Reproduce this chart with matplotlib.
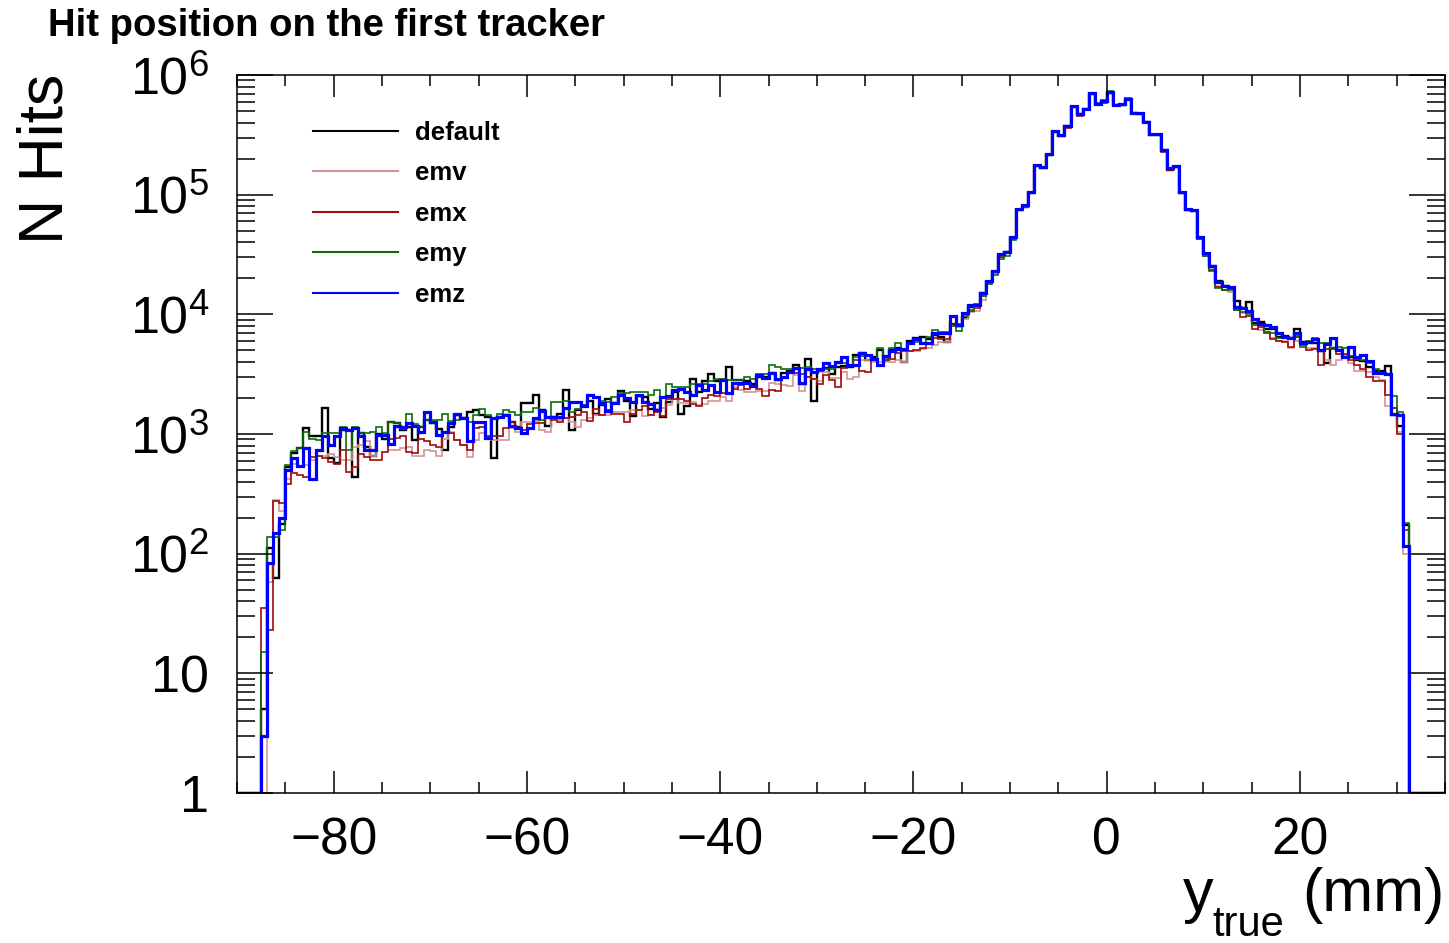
import numpy as np
import matplotlib
matplotlib.use('Agg')
import matplotlib.pyplot as plt
from matplotlib.ticker import FixedLocator, FixedFormatter, MultipleLocator, LogLocator, NullFormatter

plt.rcParams.update({
    'font.family': ['Liberation Sans', 'DejaVu Sans'],
    'mathtext.fontset': 'custom',
    'mathtext.rm': 'Liberation Sans',
    'mathtext.it': 'Liberation Sans:italic',
    'mathtext.bf': 'Liberation Sans:bold',
})

# Binning: 200 bins of 0.625 mm between -90 and 35 mm
x_lo, x_hi, n_bins = -90.0, 35.0, 200
first_bin = 4  # first filled bin (-87.5 mm); bins 4..193 are filled

# log10(N hits) per bin (None = empty bin)
default_log10 = [
    0.70, 2.05, 1.80, 2.25, 2.72, 2.84, 2.88, 3.05, 2.98, 2.98,
    3.22, 2.80, 2.76, 3.03, 3.03, 2.64, 3.01, 2.89, 2.82, 3.00,
    2.96, 3.10, 3.09, 3.03, 3.06, 2.95, 3.06, 3.12, 3.09, 3.04,
    2.87, 3.06, 3.16, 3.13, 3.18, 3.20, 3.16, 3.14, 2.80, 3.14,
    3.16, 3.10, 3.06, 3.26, 3.26, 3.33, 3.20, 3.07, 3.14, 3.17,
    3.37, 3.03, 3.20, 3.23, 3.28, 3.17, 3.24, 3.29, 3.26, 3.36,
    3.28, 3.15, 3.32, 3.31, 3.21, 3.26, 3.14, 3.27, 3.35, 3.17,
    3.23, 3.46, 3.35, 3.44, 3.50, 3.44, 3.45, 3.56, 3.45, 3.45,
    3.44, 3.42, 3.48, 3.48, 3.51, 3.45, 3.51, 3.53, 3.58, 3.42,
    3.63, 3.28, 3.53, 3.55, 3.50, 3.56, 3.57, 3.56, 3.66, 3.68,
    3.62, 3.64, 3.70, 3.61, 3.70, 3.72, 3.60, 3.78, 3.80, 3.81,
    3.79, 3.83, 3.81, 3.77, 3.92, 3.90, 3.97, 4.06, 4.08, 4.18,
    4.27, 4.35, 4.49, 4.52, 4.64, 4.87, 4.90, 5.01, 5.24, 5.22,
    5.33, 5.52, 5.49, 5.57, 5.73, 5.67, 5.72, 5.84, 5.76, 5.78,
    5.85, 5.75, 5.75, 5.80, 5.68, 5.67, 5.61, 5.50, 5.50, 5.37,
    5.21, 5.23, 5.01, 4.87, 4.86, 4.64, 4.50, 4.40, 4.28, 4.24,
    4.22, 4.11, 4.05, 4.10, 3.93, 3.94, 3.88, 3.88, 3.81, 3.82,
    3.80, 3.88, 3.77, 3.77, 3.76, 3.69, 3.59, 3.72, 3.70, 3.64,
    3.64, 3.62, 3.61, 3.56, 3.53, 3.53, 3.57, 3.16, 3.07, 2.24,
]
emv_log10 = [
    None, 1.76, 2.45, 2.36, 2.62, 2.75, 2.73, 2.74, 2.78, 2.82,
    2.82, 2.83, 2.81, 2.78, 2.78, 2.89, 2.91, 2.94, 2.82, 2.99,
    2.99, 2.87, 2.87, 2.88, 2.89, 2.82, 2.82, 2.87, 2.86, 2.82,
    2.96, 3.02, 2.95, 2.91, 2.81, 2.95, 3.01, 2.98, 2.95, 2.95,
    2.95, 3.05, 3.02, 3.10, 3.10, 3.11, 3.03, 3.02, 3.14, 3.12,
    3.13, 3.10, 3.06, 3.12, 3.13, 3.16, 3.16, 3.16, 3.18, 3.18,
    3.18, 3.20, 3.20, 3.15, 3.16, 3.21, 3.22, 3.24, 3.29, 3.26,
    3.26, 3.27, 3.24, 3.25, 3.28, 3.28, 3.31, 3.28, 3.39, 3.37,
    3.35, 3.35, 3.36, 3.36, 3.43, 3.42, 3.41, 3.40, 3.49, 3.36,
    3.48, 3.46, 3.44, 3.52, 3.47, 3.47, 3.52, 3.46, 3.48, 3.62,
    3.62, 3.60, 3.60, 3.61, 3.60, 3.62, 3.60, 3.69, 3.69, 3.71,
    3.72, 3.74, 3.77, 3.77, 3.90, 3.89, 3.96, 4.02, 4.03, 4.12,
    4.25, 4.34, 4.48, 4.51, 4.64, 4.87, 4.90, 5.02, 5.24, 5.23,
    5.33, 5.53, 5.50, 5.57, 5.74, 5.67, 5.72, 5.85, 5.76, 5.78,
    5.86, 5.75, 5.76, 5.80, 5.68, 5.68, 5.61, 5.51, 5.51, 5.37,
    5.22, 5.23, 5.02, 4.88, 4.86, 4.64, 4.50, 4.38, 4.24, 4.20,
    4.19, 4.04, 4.01, 4.01, 3.91, 3.87, 3.85, 3.80, 3.78, 3.78,
    3.72, 3.78, 3.75, 3.72, 3.72, 3.69, 3.62, 3.58, 3.62, 3.66,
    3.59, 3.53, 3.53, 3.52, 3.48, 3.45, 3.23, 3.22, 3.02, 2.00,
]
emx_log10 = [
    1.55, 1.36, 2.44, 2.42, 2.58, 2.67, 2.66, 2.64, 2.81, 2.82,
    2.80, 2.77, 2.75, 2.87, 2.68, 2.72, 2.83, 2.81, 2.78, 2.78,
    2.85, 2.96, 2.97, 2.98, 2.85, 2.84, 2.96, 2.94, 2.91, 2.89,
    3.02, 3.01, 2.95, 2.91, 2.87, 3.05, 3.06, 2.98, 2.98, 2.98,
    3.05, 3.10, 3.06, 3.03, 3.08, 3.09, 3.09, 3.13, 3.12, 3.10,
    3.13, 3.14, 3.16, 3.18, 3.11, 3.21, 3.16, 3.20, 3.17, 3.17,
    3.10, 3.17, 3.20, 3.23, 3.16, 3.18, 3.15, 3.29, 3.29, 3.29,
    3.28, 3.25, 3.23, 3.30, 3.33, 3.32, 3.34, 3.34, 3.38, 3.41,
    3.38, 3.39, 3.38, 3.32, 3.37, 3.36, 3.48, 3.51, 3.51, 3.50,
    3.48, 3.46, 3.42, 3.49, 3.45, 3.39, 3.55, 3.58, 3.62, 3.53,
    3.52, 3.62, 3.58, 3.62, 3.63, 3.68, 3.69, 3.69, 3.70, 3.72,
    3.76, 3.80, 3.79, 3.79, 3.92, 3.92, 4.00, 4.03, 4.05, 4.15,
    4.26, 4.35, 4.48, 4.51, 4.63, 4.87, 4.90, 5.01, 5.24, 5.22,
    5.33, 5.52, 5.49, 5.56, 5.73, 5.66, 5.71, 5.84, 5.75, 5.77,
    5.85, 5.74, 5.75, 5.79, 5.67, 5.67, 5.60, 5.50, 5.50, 5.36,
    5.21, 5.23, 5.01, 4.87, 4.86, 4.63, 4.49, 4.37, 4.23, 4.20,
    4.21, 4.04, 3.98, 3.99, 3.88, 3.89, 3.84, 3.79, 3.78, 3.77,
    3.73, 3.81, 3.74, 3.70, 3.71, 3.58, 3.71, 3.71, 3.67, 3.67,
    3.62, 3.58, 3.54, 3.48, 3.44, 3.44, 3.33, 3.22, 3.00, 2.20,
]
emy_log10 = [
    1.18, 2.14, 2.14, 2.20, 2.74, 2.86, 2.88, 3.02, 2.96, 2.95,
    3.01, 3.01, 3.01, 3.06, 2.87, 3.06, 3.01, 3.01, 3.02, 3.06,
    3.01, 3.10, 3.09, 3.04, 3.17, 3.08, 3.06, 3.12, 3.12, 3.12,
    3.17, 3.11, 3.12, 3.13, 3.10, 3.16, 3.21, 3.16, 3.13, 3.17,
    3.20, 3.18, 3.16, 3.18, 3.18, 3.22, 3.12, 3.14, 3.27, 3.27,
    3.28, 3.18, 3.21, 3.24, 3.32, 3.30, 3.28, 3.27, 3.31, 3.34,
    3.34, 3.35, 3.35, 3.35, 3.33, 3.37, 3.30, 3.42, 3.39, 3.39,
    3.39, 3.42, 3.42, 3.42, 3.44, 3.46, 3.46, 3.45, 3.45, 3.45,
    3.48, 3.46, 3.50, 3.50, 3.58, 3.56, 3.54, 3.54, 3.55, 3.55,
    3.56, 3.54, 3.53, 3.54, 3.54, 3.59, 3.59, 3.58, 3.64, 3.65,
    3.66, 3.63, 3.72, 3.63, 3.72, 3.76, 3.71, 3.76, 3.77, 3.76,
    3.81, 3.87, 3.85, 3.85, 3.90, 3.86, 3.99, 4.04, 4.09, 4.15,
    4.25, 4.33, 4.46, 4.49, 4.62, 4.87, 4.90, 5.02, 5.24, 5.23,
    5.34, 5.53, 5.50, 5.57, 5.74, 5.67, 5.72, 5.85, 5.77, 5.79,
    5.87, 5.75, 5.76, 5.81, 5.68, 5.68, 5.61, 5.51, 5.51, 5.37,
    5.22, 5.24, 5.01, 4.87, 4.86, 4.63, 4.49, 4.36, 4.22, 4.20,
    4.20, 4.04, 4.02, 4.00, 3.91, 3.91, 3.85, 3.84, 3.80, 3.80,
    3.80, 3.82, 3.73, 3.78, 3.80, 3.76, 3.76, 3.72, 3.73, 3.72,
    3.65, 3.63, 3.62, 3.59, 3.54, 3.51, 3.50, 3.32, 3.18, 2.26,
]
emz_log10 = [
    0.48, 1.92, 2.17, 2.30, 2.70, 2.80, 2.73, 2.88, 2.62, 2.87,
    2.98, 2.91, 2.98, 3.05, 3.03, 3.05, 2.98, 2.87, 2.87, 2.99,
    2.99, 2.92, 3.07, 3.06, 3.09, 3.07, 3.02, 3.18, 3.10, 2.99,
    3.02, 3.09, 3.17, 3.13, 2.94, 3.10, 3.10, 2.97, 3.13, 3.14,
    3.16, 3.07, 3.05, 3.01, 3.05, 3.13, 3.19, 3.14, 3.14, 3.14,
    3.22, 3.27, 3.27, 3.23, 3.33, 3.31, 3.26, 3.19, 3.26, 3.33,
    3.30, 3.27, 3.33, 3.27, 3.25, 3.20, 3.31, 3.32, 3.37, 3.38,
    3.35, 3.33, 3.41, 3.37, 3.41, 3.35, 3.45, 3.34, 3.43, 3.43,
    3.43, 3.40, 3.49, 3.47, 3.51, 3.46, 3.48, 3.52, 3.55, 3.43,
    3.54, 3.52, 3.54, 3.59, 3.57, 3.60, 3.64, 3.58, 3.58, 3.68,
    3.66, 3.63, 3.58, 3.65, 3.69, 3.71, 3.71, 3.76, 3.79, 3.76,
    3.76, 3.84, 3.84, 3.84, 3.99, 3.91, 4.01, 4.08, 4.08, 4.18,
    4.28, 4.36, 4.50, 4.52, 4.65, 4.88, 4.91, 5.02, 5.25, 5.23,
    5.34, 5.53, 5.50, 5.57, 5.74, 5.67, 5.72, 5.85, 5.76, 5.78,
    5.86, 5.75, 5.76, 5.80, 5.68, 5.68, 5.61, 5.51, 5.51, 5.37,
    5.22, 5.24, 5.02, 4.88, 4.87, 4.65, 4.51, 4.40, 4.27, 4.24,
    4.23, 4.06, 4.05, 4.03, 3.96, 3.92, 3.91, 3.89, 3.84, 3.81,
    3.80, 3.84, 3.76, 3.77, 3.79, 3.70, 3.75, 3.80, 3.70, 3.64,
    3.73, 3.64, 3.66, 3.61, 3.51, 3.51, 3.50, 3.17, 3.16, 2.07,
]

series_names = ['default', 'emv', 'emx', 'emy', 'emz']
series_data = [default_log10, emv_log10, emx_log10, emy_log10, emz_log10]
series_colors = ['#000000', '#d39494', '#a00a0a', '#0a6e0a', '#0000ff']
series_widths = [1.7, 1.2, 1.2, 1.2, 2.3]


def to_counts(log_vals):
    counts = np.zeros(n_bins)
    arr = np.array([np.nan if v is None else v for v in log_vals], dtype=float)
    filled = np.where(np.isnan(arr), 0.0, np.round(10.0 ** arr))
    counts[first_bin:first_bin + len(arr)] = filled
    return counts


edges = np.linspace(x_lo, x_hi, n_bins + 1)

W, H = 1449, 943
fig = plt.figure(figsize=(W / 100, H / 100), dpi=100)
ax = fig.add_axes([237 / W, 1 - 793 / H, (1445 - 237) / W, (793 - 75) / H])

y_min, y_max = 1, 1e6
for name, vals, col, lw in zip(series_names, series_data, series_colors, series_widths):
    counts = to_counts(vals)
    # empty bins drawn on the frame bottom, as ROOT does on a log axis
    ax.stairs(np.clip(counts, y_min, None), edges, color=col, linewidth=lw,
              baseline=None, label=name)

ax.set_yscale('log')
ax.set_xlim(x_lo, x_hi)
ax.set_ylim(y_min, y_max)

ax.xaxis.set_major_locator(MultipleLocator(20))
ax.xaxis.set_minor_locator(MultipleLocator(5))
y_ticks = [1, 10, 1e2, 1e3, 1e4, 1e5, 1e6]
y_labels = ['1', '10', r'$10^{2}$', r'$10^{3}$', r'$10^{4}$', r'$10^{5}$', r'$10^{6}$']
ax.yaxis.set_major_locator(FixedLocator(y_ticks))
ax.yaxis.set_major_formatter(FixedFormatter(y_labels))
ax.yaxis.set_minor_locator(LogLocator(base=10, subs=np.arange(2, 10)))
ax.yaxis.set_minor_formatter(NullFormatter())

ax.tick_params(which='both', direction='in', top=True, right=True, width=1.1, color='black')
ax.tick_params(axis='x', which='major', length=15.5, labelsize=37, pad=17)
ax.tick_params(axis='x', which='minor', length=7.8)
ax.tick_params(axis='y', which='major', length=26, labelsize=37.5, pad=20)
ax.tick_params(axis='y', which='minor', length=13)
for sp in ax.spines.values():
    sp.set_linewidth(1.1)

leg = ax.legend(loc='upper left', bbox_to_anchor=(313 / W, 1 - 121 / H),
                bbox_transform=fig.transFigure, frameon=False,
                prop={'weight': 'bold', 'size': 18.5}, handlelength=3.3,
                handletextpad=0.68, labelspacing=0.64, borderpad=0, borderaxespad=0)
for h in leg.get_lines():
    h.set_linewidth(1.5)

fig.text(48 / W, 1 - 36 / H, 'Hit position on the first tracker', fontsize=27.5,
         fontweight='bold', ha='left', va='baseline')
fig.text(63 / W, 1 - 74 / H, 'N Hits', fontsize=45, rotation=90,
         rotation_mode='anchor', ha='right', va='baseline')
# x-axis title: y with a low subscript, then the unit, right-aligned to the frame
fig.text(1183 / W, 1 - 911 / H, 'y', fontsize=44, ha='left', va='baseline')
fig.text(1212 / W, 1 - 936 / H, 'true', fontsize=30, ha='left', va='baseline')
fig.text(1445 / W, 1 - 911 / H, '(mm)', fontsize=44, ha='right', va='baseline')

fig.savefig('out.png', dpi=100)
